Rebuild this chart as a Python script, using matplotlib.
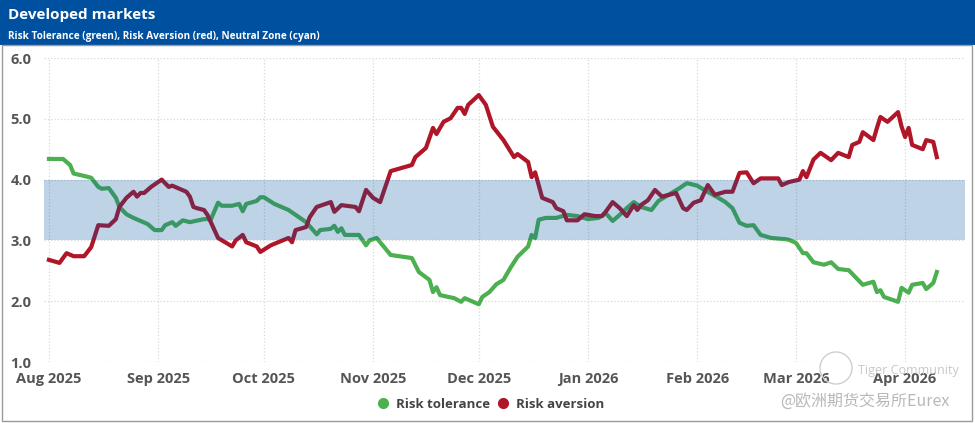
import numpy as np
import pandas as pd
import matplotlib
matplotlib.use('Agg')
from matplotlib import pyplot as plt
from matplotlib.patches import Rectangle, Ellipse
from matplotlib.lines import Line2D

# days counted from 1 Aug 2025
start = pd.Timestamp('2025-08-01')

tol_days = [0, 4, 6, 7, 10, 12, 14, 15, 17, 19, 20, 22, 24, 26, 28, 30, 32, 33, 35, 36,
            38, 40, 44, 46, 48, 49, 52, 54, 55, 56, 59, 60, 61, 64, 68, 70, 73, 76, 77, 80,
            81, 82, 83, 84, 88, 90, 91, 93, 97, 103, 105, 108, 109, 110, 111, 115, 117, 118, 122, 123,
            125, 127, 129, 131, 133, 136, 137, 138, 139, 141, 144, 147, 150, 153, 156, 158, 160, 162, 164, 166,
            168, 171, 173, 179, 181, 182, 184, 186, 190, 192, 194, 196, 198, 200, 202, 205, 209, 210, 212, 214,
            215, 217, 220, 222, 224, 227, 231, 234, 235, 236, 237, 241, 242, 244, 245, 248, 249, 251, 252]
tol_vals = [4.34, 4.34, 4.24, 4.10, 4.06, 4.03, 3.88, 3.85, 3.86, 3.70, 3.55, 3.43, 3.37, 3.32, 3.27, 3.17, 3.17, 3.25, 3.30, 3.24,
            3.33, 3.30, 3.35, 3.35, 3.62, 3.57, 3.57, 3.60, 3.48, 3.60, 3.65, 3.71, 3.71, 3.60, 3.50, 3.42, 3.30, 3.10, 3.17, 3.19,
            3.24, 3.14, 3.20, 3.09, 3.09, 2.92, 3.00, 3.04, 2.76, 2.71, 2.48, 2.35, 2.15, 2.23, 2.10, 2.05, 1.99, 2.05, 1.95, 2.07,
            2.15, 2.28, 2.35, 2.55, 2.73, 2.90, 3.09, 3.04, 3.34, 3.37, 3.37, 3.42, 3.40, 3.35, 3.37, 3.45, 3.32, 3.42, 3.53, 3.63,
            3.55, 3.50, 3.65, 3.86, 3.94, 3.93, 3.90, 3.83, 3.70, 3.63, 3.53, 3.29, 3.24, 3.25, 3.09, 3.04, 3.02, 3.01, 2.96, 2.79,
            2.79, 2.64, 2.60, 2.64, 2.53, 2.51, 2.27, 2.32, 2.15, 2.18, 2.07, 1.99, 2.22, 2.14, 2.27, 2.30, 2.20, 2.30, 2.48]

av_days = [0, 3, 5, 7, 10, 12, 14, 17, 19, 20, 22, 24, 25, 26, 27, 29, 32, 34, 35, 39,
           40, 41, 42, 44, 45, 48, 52, 53, 55, 56, 59, 60, 63, 68, 69, 70, 73, 74, 76, 80,
           81, 83, 87, 88, 90, 92, 94, 95, 97, 100, 103, 104, 107, 109, 110, 112, 114, 116, 117, 118,
           119, 122, 124, 126, 129, 132, 133, 136, 137, 138, 140, 143, 144, 146, 147, 150, 152, 155, 157, 158,
           160, 162, 164, 166, 167, 168, 170, 172, 174, 178, 180, 181, 183, 185, 187, 189, 192, 194, 196, 198,
           200, 202, 205, 207, 208, 210, 213, 214, 215, 217, 219, 222, 224, 227, 228, 230, 231, 234, 235, 236,
           238, 241, 242, 243, 244, 245, 248, 249, 251, 252]
av_vals = [2.68, 2.63, 2.79, 2.74, 2.74, 2.89, 3.25, 3.24, 3.35, 3.55, 3.70, 3.80, 3.72, 3.78, 3.78, 3.88, 4.00, 3.88, 3.90, 3.80,
           3.72, 3.55, 3.53, 3.50, 3.42, 3.04, 2.90, 3.00, 3.09, 2.97, 2.90, 2.81, 2.92, 3.04, 2.97, 3.17, 3.22, 3.38, 3.55, 3.63,
           3.47, 3.58, 3.55, 3.48, 3.83, 3.70, 3.63, 3.80, 4.14, 4.19, 4.24, 4.37, 4.52, 4.85, 4.75, 4.95, 5.01, 5.18, 5.18, 5.08,
           5.23, 5.39, 5.23, 4.87, 4.65, 4.37, 4.42, 4.29, 4.04, 4.12, 3.70, 3.63, 3.53, 3.48, 3.33, 3.33, 3.43, 3.40, 3.40, 3.47,
           3.63, 3.53, 3.40, 3.58, 3.50, 3.58, 3.66, 3.83, 3.72, 3.78, 3.53, 3.50, 3.62, 3.66, 3.91, 3.75, 3.80, 3.80, 4.11, 4.12,
           3.94, 4.02, 4.02, 4.02, 3.91, 3.96, 4.00, 4.14, 4.04, 4.33, 4.44, 4.32, 4.44, 4.37, 4.57, 4.62, 4.78, 4.65, 4.85, 5.03,
           4.95, 5.11, 4.87, 4.70, 4.85, 4.57, 4.50, 4.65, 4.62, 4.37]

month_ticks = ['2025-08-01', '2025-09-01', '2025-10-01', '2025-11-01', '2025-12-01',
               '2026-01-01', '2026-02-01', '2026-03-01', '2026-04-01']
month_labels = ['Aug 2025', 'Sep 2025', 'Oct 2025', 'Nov 2025', 'Dec 2025',
                'Jan 2026', 'Feb 2026', 'Mar 2026', 'Apr 2026']
neutral_zone = (3.0, 4.0)

plt.rcParams['font.family'] = ['Open Sans', 'DejaVu Sans']

tol_dates = start + pd.to_timedelta(tol_days, unit='D')
av_dates = start + pd.to_timedelta(av_days, unit='D')
tick_dates = pd.to_datetime(month_ticks)

green = '#4caf50'
red = '#b01528'
blue = '#0050a0'

fig = plt.figure(figsize=(9.75, 4.23), dpi=100)

# header bar and frame
fig.patches.append(Rectangle((0, 1 - 45 / 423), 1, 45 / 423, transform=fig.transFigure,
                             facecolor=blue, edgecolor='none', zorder=-2))
fig.patches.append(Rectangle((2 / 975, 2 / 423), 970 / 975, 376 / 423, transform=fig.transFigure,
                             facecolor='none', edgecolor='#9a9a9a', lw=1.0, zorder=-2))
fig.text(8 / 975, 1 - 15 / 423, 'Developed markets', color='white', fontsize=11,
         fontweight='bold', va='center', ha='left')
fig.text(8 / 975, 1 - 36 / 423, 'Risk Tolerance (green), Risk Aversion (red), Neutral Zone (cyan)',
         color='white', fontsize=7.2, fontweight='bold', va='center', ha='left')

ax = fig.add_axes([44 / 975, 1 - 362 / 423, 921 / 975, 304 / 423])
ax.plot(tol_dates, tol_vals, color=green, lw=3, solid_joinstyle='round', zorder=2)
ax.plot(av_dates, av_vals, color=red, lw=3, solid_joinstyle='round', zorder=2)
ax.axhspan(neutral_zone[0], neutral_zone[1], color=blue, alpha=0.25, lw=0, zorder=3)

ax.set_xlim(start - pd.Timedelta(days=1.4), start + pd.Timedelta(days=260))
ax.set_ylim(1, 6)
ax.set_yticks([1, 2, 3, 4, 5, 6])
ax.set_yticklabels(['1.0', '2.0', '3.0', '4.0', '5.0', '6.0'])
ax.set_xticks(tick_dates)
ax.set_xticklabels(month_labels)
ax.tick_params(axis='both', length=0, labelsize=10.5, labelcolor='#555555')
ax.tick_params(axis='x', pad=7)
ax.tick_params(axis='y', pad=9)
for lab in ax.get_xticklabels() + ax.get_yticklabels():
    lab.set_fontweight('bold')
for s in ax.spines.values():
    s.set_visible(False)
ax.set_axisbelow(True)
ax.grid(True, color='#d8d8d8', ls=':', lw=0.9)
ax.patch.set_alpha(0)

handles = [Line2D([], [], ls='none', marker='o', ms=7, color=green),
           Line2D([], [], ls='none', marker='o', ms=7, color=red)]
leg = fig.legend(handles, ['Risk tolerance', 'Risk aversion'], loc='center',
                 ncol=2, frameon=False, handletextpad=0.0, columnspacing=0.0,
                 fontsize=9.5, bbox_to_anchor=(487 / 975, 1 - 404 / 423))
for t in leg.get_texts():
    t.set_fontweight('bold')
    t.set_color('#444444')

# watermark
fig.patches.append(Ellipse((836 / 975, 1 - 368 / 423), 32 / 975, 32 / 423, transform=fig.transFigure,
                           facecolor='none', edgecolor='#cfcfcf', lw=1.0, zorder=5))
fig.text(858 / 975, 1 - 370 / 423, 'Tiger Community', color='#c8c8c8', fontsize=9,
         ha='left', va='center')
fig.text(780 / 975, 1 - 401 / 423, '@欧洲期货交易所Eurex', color='#b8b8b8', fontsize=11.5,
         ha='left', va='center', family=['Noto Sans CJK SC', 'DejaVu Sans'])

fig.savefig('out.png', dpi=100)
